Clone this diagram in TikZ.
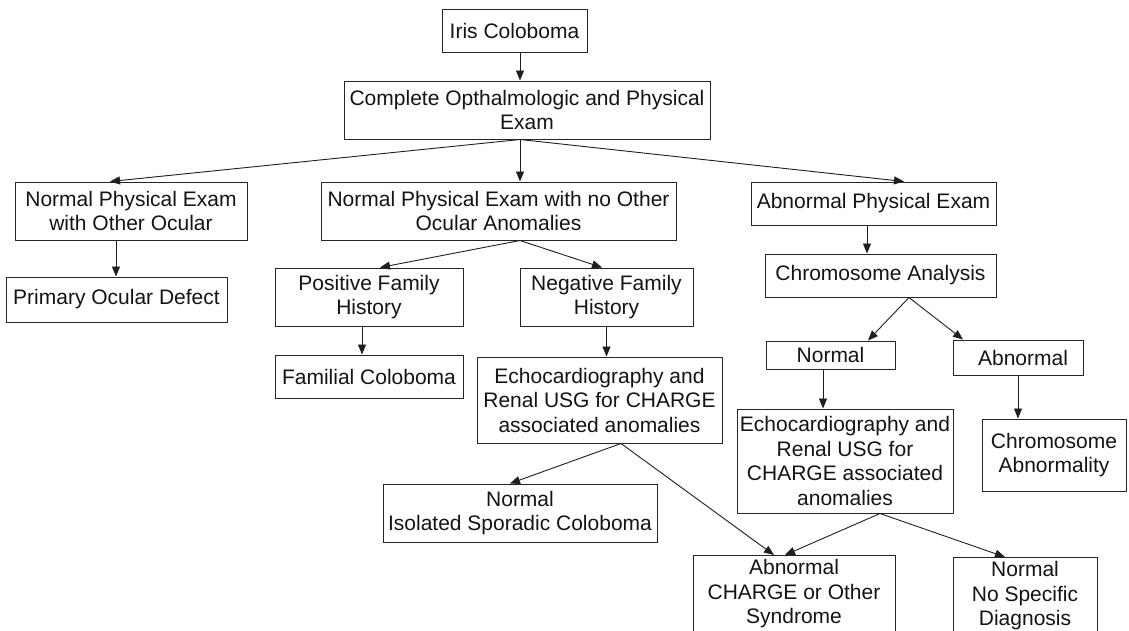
\documentclass[tikz,border=0pt]{standalone}
\usepackage{fontspec}
\setmainfont{Liberation Sans}
\usetikzlibrary{arrows.meta}
\tikzset{
  box/.style={draw=black!85, line width=1pt, rectangle, align=center,
    inner xsep=2pt, inner ysep=4pt, text=black!92,
    font={\fontsize{21pt}{24.5pt}\selectfont}},
  arr/.style={draw=black!88, line width=0.9pt, -{Triangle[length=10pt,width=8pt]}}
}
\begin{document}
\begin{tikzpicture}[x=1pt,y=-1pt]
\useasboundingbox (0,0) rectangle (1129,630);
\clip (0,0) rectangle (1129,630);
\fill[white] (0,0) rectangle (1129,630);

% boxes: centre (x,y), width, height
\node[box, minimum width=145, minimum height=43] (iris) at (514.5,30.5) {Iris Coloboma};
\node[box, minimum width=366, minimum height=58] (complete) at (527,110) {Complete Opthalmologic and Physical\\Exam};
\node[box, minimum width=232, minimum height=58] (npe) at (131,211) {Normal Physical Exam\\with Other Ocular};
\node[box, minimum width=221, minimum height=45] (pod) at (116.5,299.5) {Primary Ocular Defect};
\node[box, minimum width=355, minimum height=58] (npeno) at (498.5,211) {Normal Physical Exam with no Other\\Ocular Anomalies};
\node[box, minimum width=188, minimum height=58] (pos) at (369,297) {Positive Family\\History};
\node[box, minimum width=173, minimum height=58] (neg) at (606.5,297) {Negative Family\\History};
\node[box, minimum width=188, minimum height=43] (fam) at (369,376.5) {Familial Coloboma};
\node[box, minimum width=245, minimum height=86] (echoa) at (599.5,400) {Echocardiography and\\Renal USG for CHARGE\\associated anomalies};
\node[box, minimum width=274, minimum height=58] (iso) at (520,513) {Normal\\Isolated Sporadic Coloboma};
\node[box, minimum width=245, minimum height=43] (ape) at (873.5,203.5) {Abnormal Physical Exam};
\node[box, minimum width=231, minimum height=43] (chrom) at (880.5,275.5) {Chromosome Analysis};
\node[box, minimum width=129, minimum height=28] (nor) at (830.5,355) {Normal};
\node[box, minimum width=130, minimum height=35] (abn) at (1018,357.5) {\hspace*{10pt}Abnormal};
\node[box, minimum width=216, minimum height=104] (echob) at (845,461) {Echocardiography and\\Renal USG for\\CHARGE associated\\anomalies};
\node[box, minimum width=144, minimum height=72] (cabn) at (1054,455) {Chromosome\\Abnormality};
\node[box, anchor=north, minimum width=202] (charge) at (794,555) {Abnormal\\CHARGE or Other\\Syndrome\rule[-30pt]{0pt}{0pt}};
\node[box, anchor=north, minimum width=144] (nsd) at (1025,557) {Normal\\No Specific\\Diagnosis\rule[-30pt]{0pt}{0pt}};

% connectors
\draw[arr] ([xshift=5.5pt]iris.south) -- ([xshift=5.5pt]iris.south |- complete.north);

\coordinate (c0) at ([xshift=-7pt]complete.south);
\draw[arr] (c0) -- ([xshift=-21pt]npe.north);
\draw[arr] (c0) -- (c0 |- npeno.north);
\draw[arr] (c0) -- ([xshift=30.5pt]ape.north);

\draw[arr] ([xshift=-15pt]npe.south) -- ([xshift=-15pt]npe.south |- pod.north);

\coordinate (c1) at ([xshift=21.5pt]npeno.south);
\draw[arr] (c1) -- ([xshift=11pt]pos.north);
\draw[arr] (c1) -- ([xshift=-4.5pt]neg.north);

\draw[arr] ([xshift=-7pt]pos.south) -- ([xshift=-7pt]pos.south |- fam.north);
\draw[arr] (neg.south) -- (neg.south |- echoa.north);

\coordinate (c2) at ([xshift=21.5pt]echoa.south);
\draw[arr] (c2) -- ([xshift=-10pt]iso.north);
\draw[arr] (c2) -- ([xshift=-20pt]charge.north);

\draw[arr] ([xshift=-6.5pt]ape.south) -- ([xshift=-6.5pt]ape.south |- chrom.north);

\coordinate (c3) at ([xshift=28.5pt]chrom.south);
\draw[arr] (c3) -- ([xshift=37.5pt]nor.north);
\draw[arr] (c3) -- ([xshift=-55pt]abn.north);

\draw[arr] ([xshift=-7.5pt]nor.south) -- ([xshift=-7.5pt]nor.south |- echob.north);
\draw[arr] (abn.south) -- (abn.south |- cabn.north);

\coordinate (c4) at ([xshift=35pt]echob.south);
\draw[arr] (c4) -- ([xshift=-9pt]charge.north);
\draw[arr] (c4) -- ([xshift=-20pt]nsd.north);
\end{tikzpicture}
\end{document}
